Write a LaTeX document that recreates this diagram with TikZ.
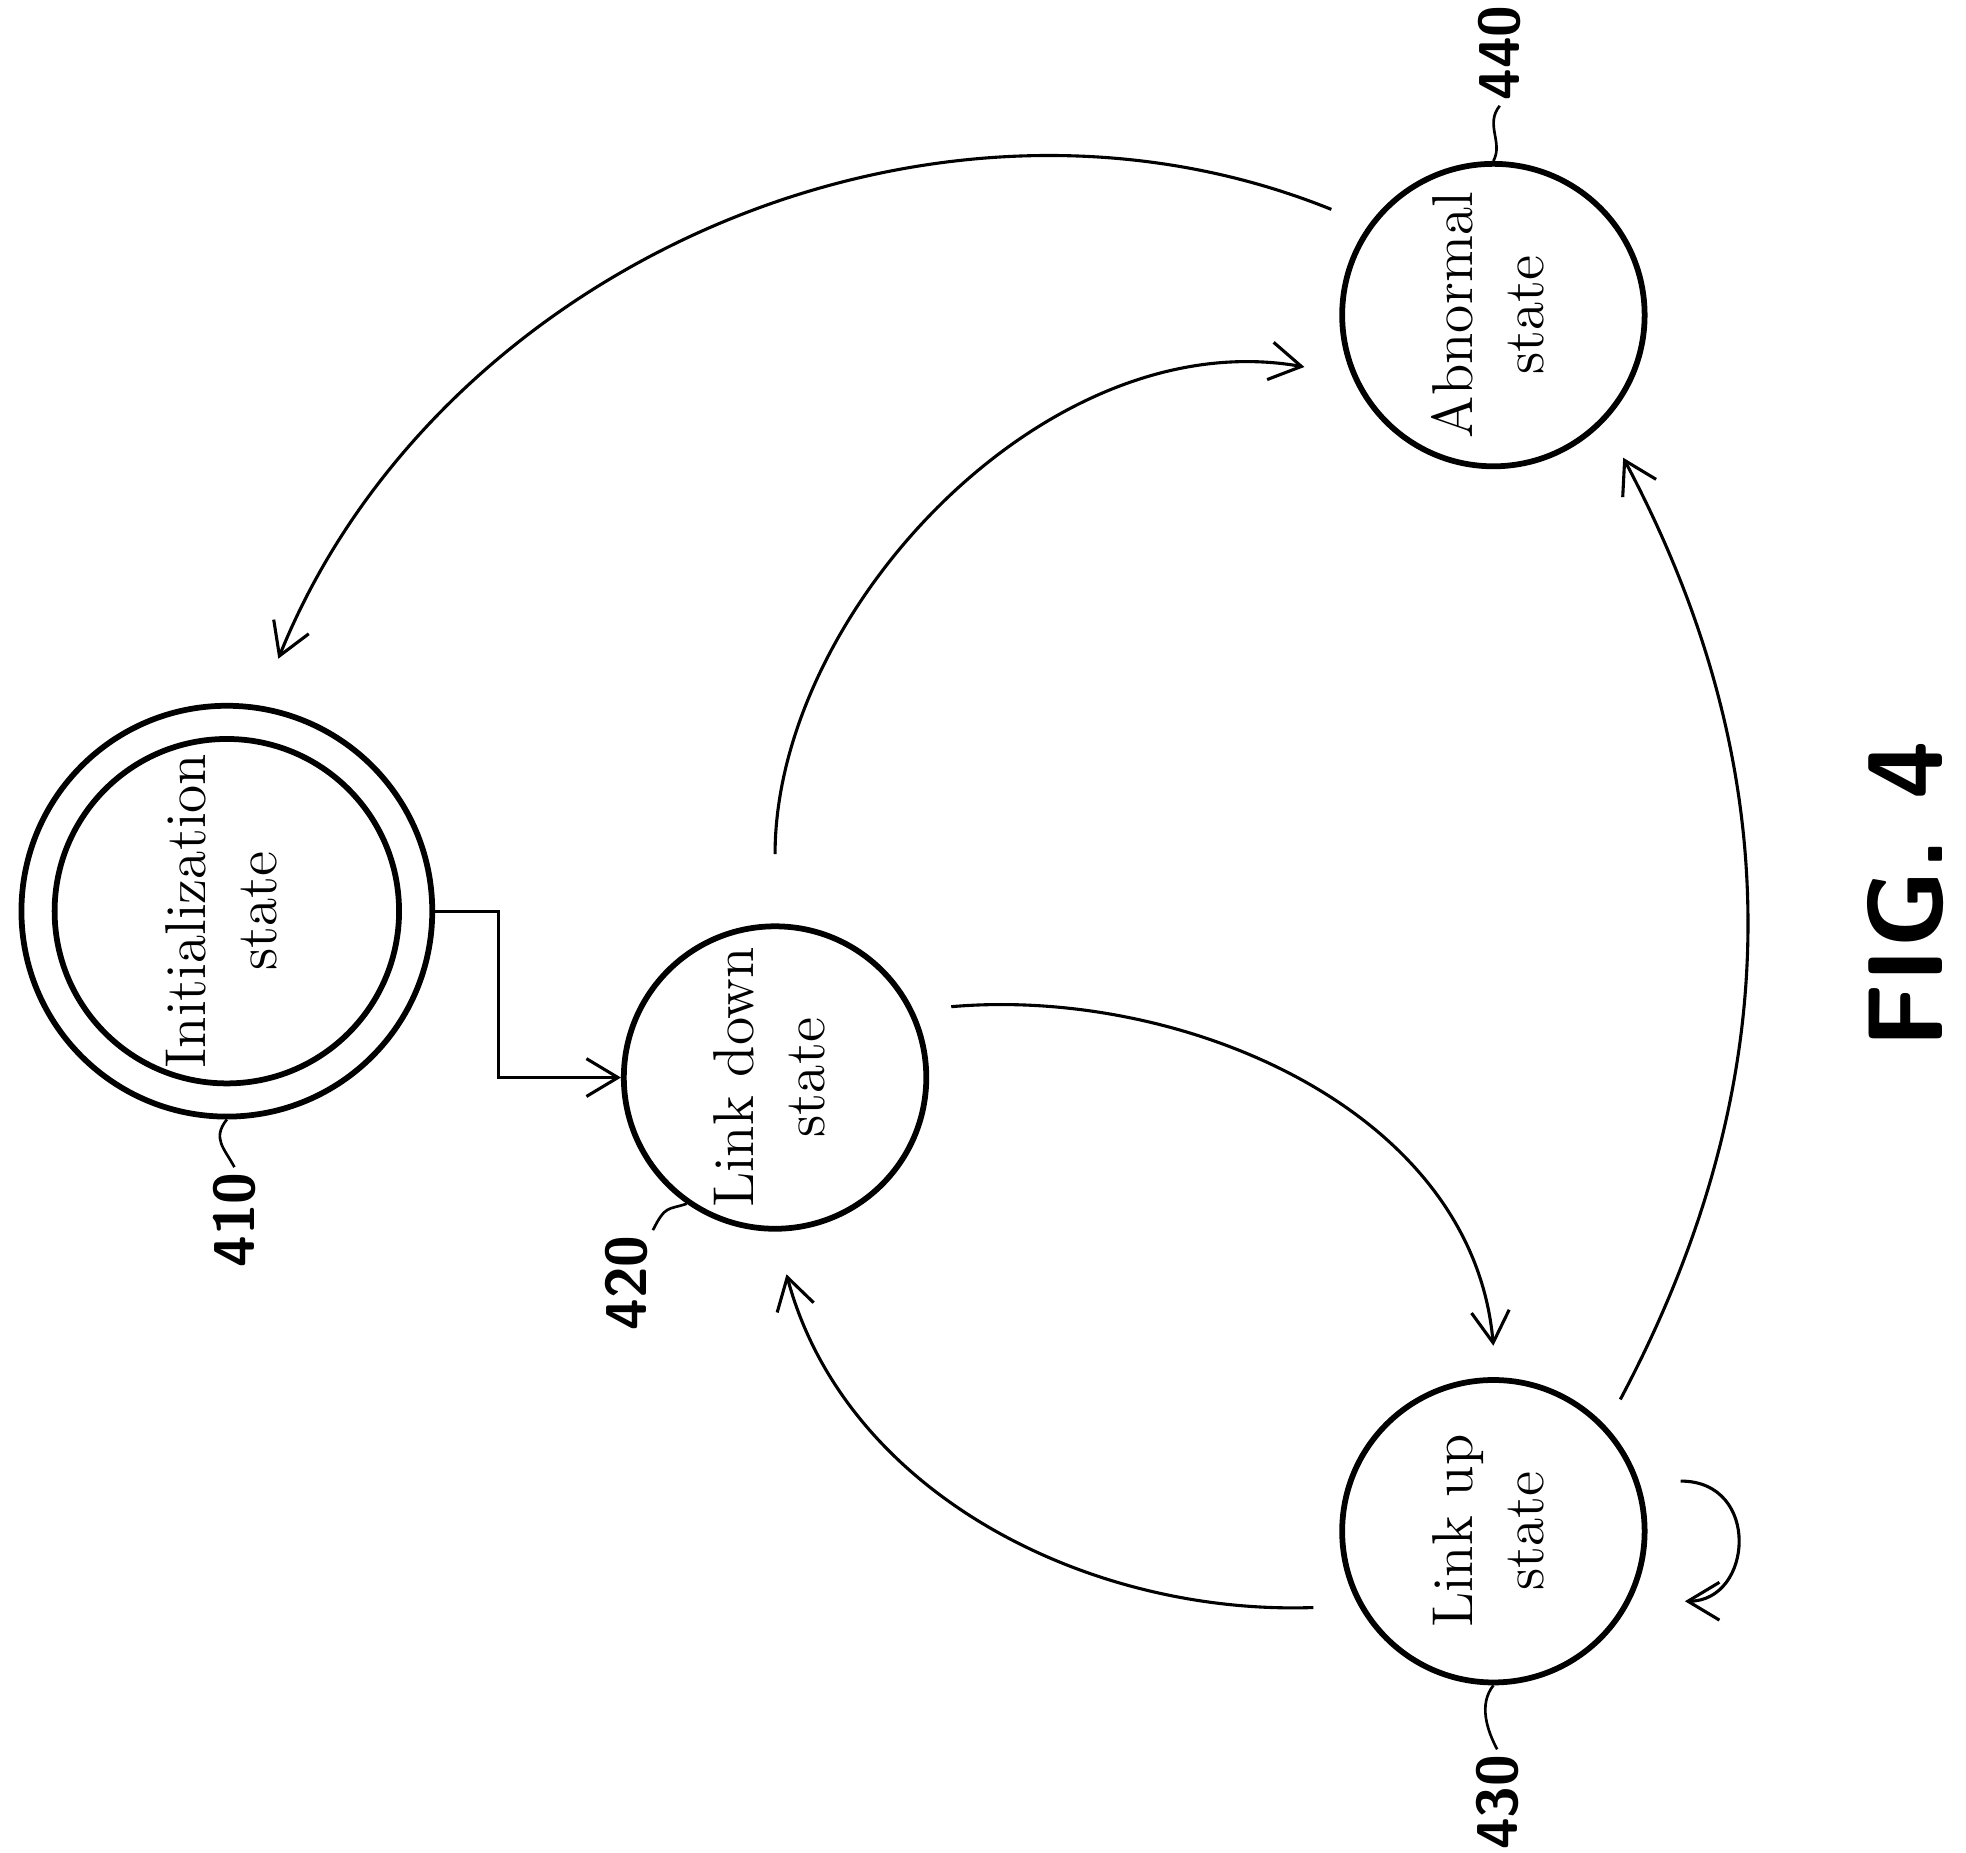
\documentclass[tikz,border=0pt]{standalone}
\usepackage{tikz}
\usepackage{graphicx}
\usetikzlibrary{arrows.meta}

\newcommand{\upright}[1]{\rotatebox{90}{\begin{tabular}{@{}c@{}}#1\end{tabular}}}

\begin{document}
\begin{tikzpicture}
    [x=0.1mm, y=0.1mm,
    state/.style={draw=black, circle, line width=1.3pt, minimum size=24mm, inner sep=0pt,
      font=\fontsize{13}{16}\selectfont},
    refnum/.style={inner sep=1pt, font=\sffamily\bfseries\fontsize{13}{13}\selectfont},
    trans/.style={line width=0.7pt, -{Straight Barb[length=2.5mm,width=3mm]}},
    tilde/.style={line width=0.6pt}]
    \useasboundingbox (0,0) rectangle (1560,-1470);
    \node[state, minimum size=32.6mm] (init) at (180,-723) {};
    \node[state, minimum size=25.8mm] (initin) at (180,-723) {\upright{Initialization\\state}};
    \node[state] (ld) at (615,-855) {\upright{Link down\\state}};
    \node[state] (lu) at (1185,-1215) {\upright{Link up\\state}};
    \node[state] (ab) at (1185,-250) {\upright{Abnormal\\state}};
    \node[refnum] (n410) at (186,-968) {\rotatebox{90}{410}};
    \node[refnum] (n420) at (497,-1018) {\rotatebox{90}{420}};
    \node[refnum] (n430) at (1188,-1430) {\rotatebox{90}{430}};
    \node[refnum] (n440) at (1190,-42) {\rotatebox{90}{440}};
    \node[font=\sffamily\bfseries\fontsize{24}{24}\selectfont] (fig) at (1512,-710) {\rotatebox{90}{FIG. 4}};
    % transitions
    \draw[trans] (init.east) -- ++(50,0) |- (ld.west);
    \draw[trans, shorten <=3mm, shorten >=2.5mm] (ld.26) to[out=5, in=95] (lu.89);
    \draw[trans, shorten <=3.6mm, shorten >=3.5mm] (lu.209) to[out=182, in=285] (ld.270);
    \draw[trans, shorten <=5.5mm, shorten >=3.8mm] (ld.90) to[out=90, in=170] (ab.203);
    \draw[trans, shorten <=2.4mm, shorten >=3.2mm] (lu.43) to[out=62, in=-62] (ab.-44);
    \draw[trans, shorten <=3.2mm, shorten >=4mm] (ab.144) to[out=158, in=68] (init.81);
    \draw[trans, shorten <=3.3mm, shorten >=4.3mm] (lu.19) to[out=0, in=0, looseness=2.6] (lu.-27);
    % reference lines
    \draw[tilde] (init.south) .. controls +(-12,-15) and +(-8,15) .. (n410.north);
    \draw[tilde] (ld.235) .. controls +(-15,-5) and +(10,20) .. (n420.north east);
    \draw[tilde] (lu.south) .. controls +(-12,-15) and +(-8,15) .. (n430.north);
    \draw[tilde] (ab.north) .. controls +(8,15) and +(-12,-15) .. (n440.south);
\end{tikzpicture}
\end{document}
